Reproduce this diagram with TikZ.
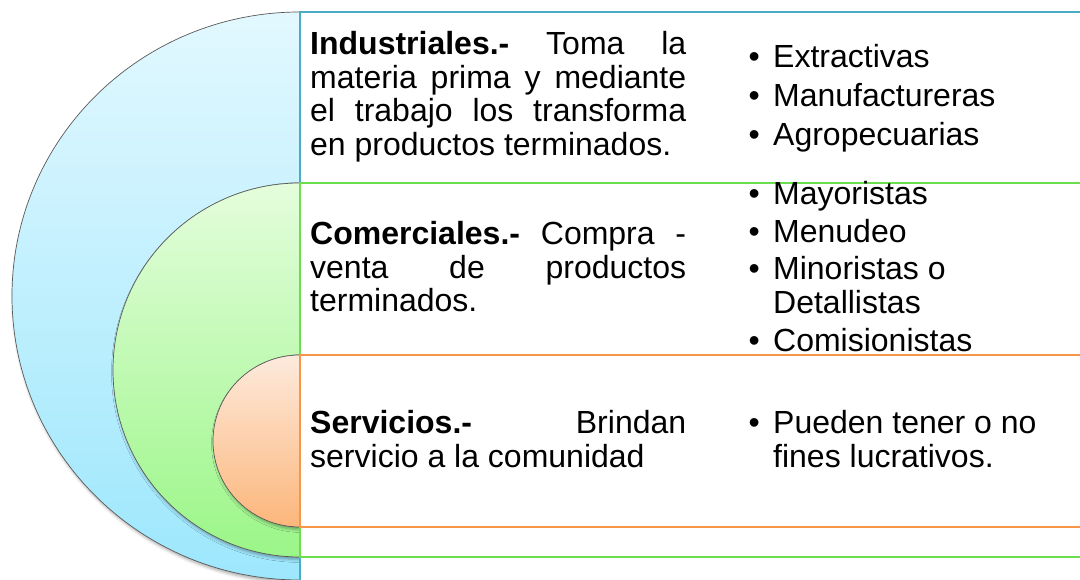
\documentclass[tikz,border=0pt]{standalone}
\usepackage{fontspec}
\setmainfont{Liberation Sans}
\usetikzlibrary{shadows.blur}
\definecolor{blueline}{HTML}{4BACC6}
\definecolor{greenline}{HTML}{6ADE4C}
\definecolor{orangeline}{HTML}{F79646}
\definecolor{bluetop}{HTML}{E2F8FE}
\definecolor{bluebot}{HTML}{9DE7FD}
\definecolor{greentop}{HTML}{E4FDDC}
\definecolor{greenbot}{HTML}{9BF688}
\definecolor{orangetop}{HTML}{FDEADC}
\definecolor{orangebot}{HTML}{FCB67B}
\newcommand{\jline}[1]{\hbox to 376pt{#1}}
\newcommand{\bul}{\llap{•\hspace{13.4pt}}}
\begin{document}
\begin{tikzpicture}[x=1pt,y=1pt,
  txt/.style={anchor=base west, inner sep=0pt, font=\fontsize{32}{33.5}\selectfont, text=black},
  disk/.style={draw=black!65, line width=0.7pt,
    blur shadow={shadow xshift=1.5pt, shadow yshift=-2.5pt, shadow blur radius=3pt, shadow opacity=35}},
  band/.style={fill=white, line width=2pt}]
\useasboundingbox (0,0) rectangle (1080,580);
\clip (0,0) rectangle (1080,580);
% half disks
\path[disk, top color=bluetop, bottom color=bluebot]
  (300,568) arc[start angle=90,end angle=270,x radius=288,y radius=284] -- cycle;
\path[disk, top color=greentop, bottom color=greenbot]
  (300,397) arc[start angle=90,end angle=270,x radius=187,y radius=187] -- cycle;
\path[disk, top color=orangetop, bottom color=orangebot]
  (300,225) arc[start angle=90,end angle=270,x radius=87,y radius=86] -- cycle;
% bands
\draw[band, draw=blueline] (300,568) rectangle (1095,-20);
\draw[band, draw=greenline] (300,397) rectangle (1095,23);
\draw[band, draw=orangeline] (300,225) rectangle (1095,53);
% left texts
\node[txt] (ind) at (310,525) {\vtop{%
  \jline{\textbf{Industriales.-} Toma la}
  \jline{materia prima y mediante}
  \jline{el trabajo los transforma}
  \hbox{en productos terminados.}}};
\node[txt] (com) at (310,335) {\vtop{%
  \jline{\textbf{Comerciales.-} Compra -}
  \jline{venta de productos}
  \hbox{terminados.}}};
\node[txt] (ser) at (310,146) {\vtop{%
  \jline{\textbf{Servicios.-} Brindan}
  \hbox{servicio a la comunidad}}};
% right lists
\node[txt] (ext) at (773,512) {\bul Extractivas};
\node[txt] (man) at (773,473) {\bul Manufactureras};
\node[txt] (agr) at (773,434) {\bul Agropecuarias};
\node[txt] (may) at (773,375) {\bul Mayoristas};
\node[txt] (men) at (773,337) {\bul Menudeo};
\node[txt] (mino) at (773,300) {\vtop{\hbox{\bul Minoristas o}\hbox{Detallistas}}};
\node[txt] (comi) at (773,228) {\bul Comisionistas};
\node[txt] (pue) at (773,146) {\vtop{\hbox{\bul Pueden tener o no}\hbox{fines lucrativos.}}};
\end{tikzpicture}
\end{document}
